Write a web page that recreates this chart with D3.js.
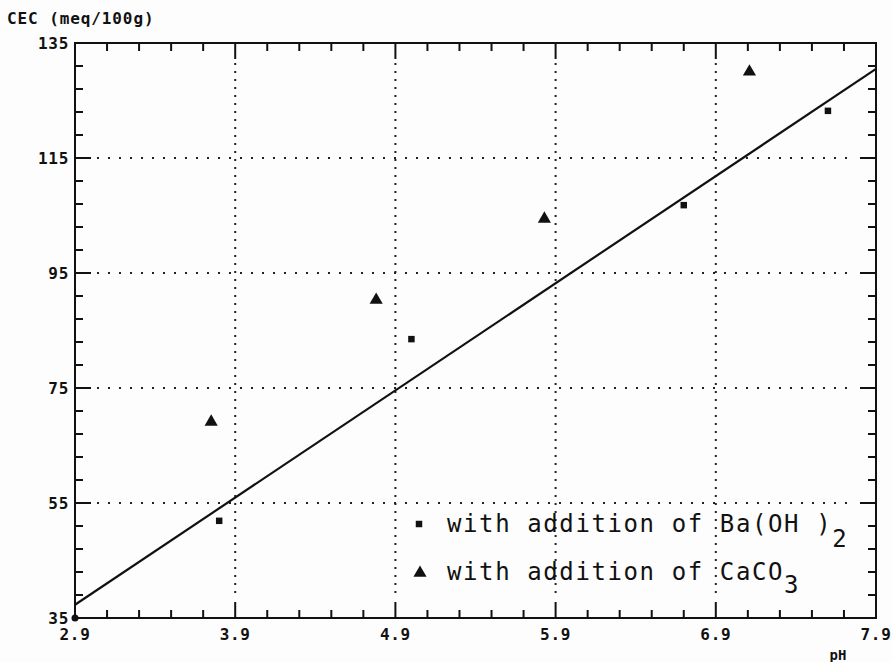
<!DOCTYPE html>
<html>
<head>
<meta charset="utf-8">
<script src="https://cdn.jsdelivr.net/npm/d3@7"></script>
<style>
  body { margin: 0; background: #fdfdfd; }
  svg { display: block; }
  .lab { font-family: "DejaVu Sans Mono", monospace; font-weight: bold; fill: #111; }
  .leg { font-family: "DejaVu Sans Mono", monospace; fill: #111; letter-spacing: 1.6px; }
</style>
</head>
<body>
<div id="chart"></div>
<script>
// Data
const baPH  = [3.8, 5.0, 6.7, 7.6];
const baCEC = [51.9, 83.5, 106.8, 123.2];
const caPH  = [3.75, 4.78, 5.83, 7.11];
const caCEC = [69.1, 90.3, 104.4, 130.0];
const fitPH  = [2.9, 7.9];
const fitCEC = [37.3, 130.5];
const xTicks = [2.9, 3.9, 4.9, 5.9, 6.9, 7.9];
const yTicks = [35, 55, 75, 95, 115, 135];

const W = 892, H = 662;
const margin = {top: 43, right: 16, bottom: 44, left: 75};

const svg = d3.select("#chart").append("svg")
    .attr("width", W).attr("height", H);

const x = d3.scaleLinear().domain([2.9, 7.9]).range([margin.left, W - margin.right]);
const y = d3.scaleLinear().domain([35, 135]).range([H - margin.bottom, margin.top]);

const x0 = x.range()[0], x1 = x.range()[1];
const y0 = y.range()[0], y1 = y.range()[1];

// dotted grid
const grid = svg.append("g").attr("stroke", "#222").attr("stroke-width", 2);
grid.selectAll(".gx").data(xTicks.slice(1, -1)).join("line")
    .attr("class", "gx")
    .attr("stroke-dasharray", "2,6")
    .attr("x1", d => x(d)).attr("x2", d => x(d))
    .attr("y1", y1 + 20).attr("y2", y0 - 20);
grid.selectAll(".gy").data(yTicks.slice(1, -1)).join("line")
    .attr("class", "gy")
    .attr("stroke-dasharray", "2,9")
    .attr("y1", d => y(d)).attr("y2", d => y(d))
    .attr("x1", x0 + 22).attr("x2", x1 - 22);

// minor / major ticks on all four sides (inward)
const xMinor = d3.range(0, 26).map(i => 2.9 + i * 0.2);
const yMinor = d3.range(0, 26).map(i => 35 + i * 4);
const isMajorX = v => xTicks.some(t => Math.abs(t - v) < 1e-6);
const isMajorY = v => yTicks.some(t => Math.abs(t - v) < 1e-6);

const ticks = svg.append("g").attr("stroke", "#111").attr("stroke-width", 2);
[y0, y1].forEach((yy, k) => {
  ticks.append("g").selectAll("line").data(xMinor).join("line")
    .attr("x1", d => x(d)).attr("x2", d => x(d))
    .attr("y1", yy)
    .attr("y2", d => yy + (k === 0 ? -1 : 1) * (isMajorX(d) ? 16 : 8));
});
[x0, x1].forEach((xx, k) => {
  ticks.append("g").selectAll("line").data(yMinor).join("line")
    .attr("y1", d => y(d)).attr("y2", d => y(d))
    .attr("x1", xx)
    .attr("x2", d => xx + (k === 0 ? 1 : -1) * (isMajorY(d) ? 16 : 8));
});

// frame
svg.append("rect")
    .attr("x", x0).attr("y", y1)
    .attr("width", x1 - x0).attr("height", y0 - y1)
    .attr("fill", "none").attr("stroke", "#111").attr("stroke-width", 2);

// tick labels
svg.append("g").selectAll("text").data(xTicks).join("text")
    .attr("class", "lab")
    .attr("x", d => x(d)).attr("y", y0 + 22)
    .attr("text-anchor", "middle")
    .attr("font-size", 16).attr("letter-spacing", 0.7)
    .text(d => d.toFixed(1));
svg.append("g").selectAll("text").data(yTicks).join("text")
    .attr("class", "lab")
    .attr("x", x0 - 6).attr("y", d => y(d) + 6)
    .attr("text-anchor", "end")
    .attr("font-size", 16).attr("letter-spacing", 0.7)
    .text(d => d);

svg.append("text").attr("class", "lab")
    .attr("x", 7).attr("y", 24).attr("font-size", 16).attr("letter-spacing", 0.9)
    .text("CEC (meq/100g)");
svg.append("text").attr("class", "lab")
    .attr("x", 838).attr("y", 660).attr("font-size", 14)
    .attr("text-anchor", "middle")
    .text("pH");

// regression line
svg.append("path")
    .datum(fitPH.map((p, i) => [p, fitCEC[i]]))
    .attr("d", d3.line().x(d => x(d[0])).y(d => y(d[1])))
    .attr("fill", "none").attr("stroke", "#111").attr("stroke-width", 2.2);

// points
const sq = d3.symbol().type(d3.symbolSquare).size(42);
const tri = d3.symbol().type(d3.symbolTriangle).size(75);
svg.append("g").selectAll("path").data(baPH.map((p, i) => [p, baCEC[i]])).join("path")
    .attr("d", sq)
    .attr("transform", d => `translate(${x(d[0])},${y(d[1])})`)
    .attr("fill", "#111");
svg.append("g").selectAll("path").data(caPH.map((p, i) => [p, caCEC[i]])).join("path")
    .attr("d", tri)
    .attr("transform", d => `translate(${x(d[0])},${y(d[1])})`)
    .attr("fill", "#111");

// big dot at origin
svg.append("circle").attr("cx", x0).attr("cy", y0).attr("r", 3.5).attr("fill", "#111");

// legend
const leg = svg.append("g").attr("transform", "translate(419,0)");
leg.append("path").attr("d", sq).attr("transform", "translate(0,524)").attr("fill", "#111");
leg.append("path").attr("d", tri).attr("transform", "translate(1,573)").attr("fill", "#111");
const t1 = leg.append("text").attr("class", "leg").attr("x", 28).attr("y", 532).attr("font-size", 24);
t1.append("tspan").text("with addition of Ba(OH )");
t1.append("tspan").attr("dy", 15).text("2");
const t2 = leg.append("text").attr("class", "leg").attr("x", 28).attr("y", 580).attr("font-size", 24);
t2.append("tspan").text("with addition of CaCO");
t2.append("tspan").attr("dy", 13).text("3");
</script>
</body>
</html>
